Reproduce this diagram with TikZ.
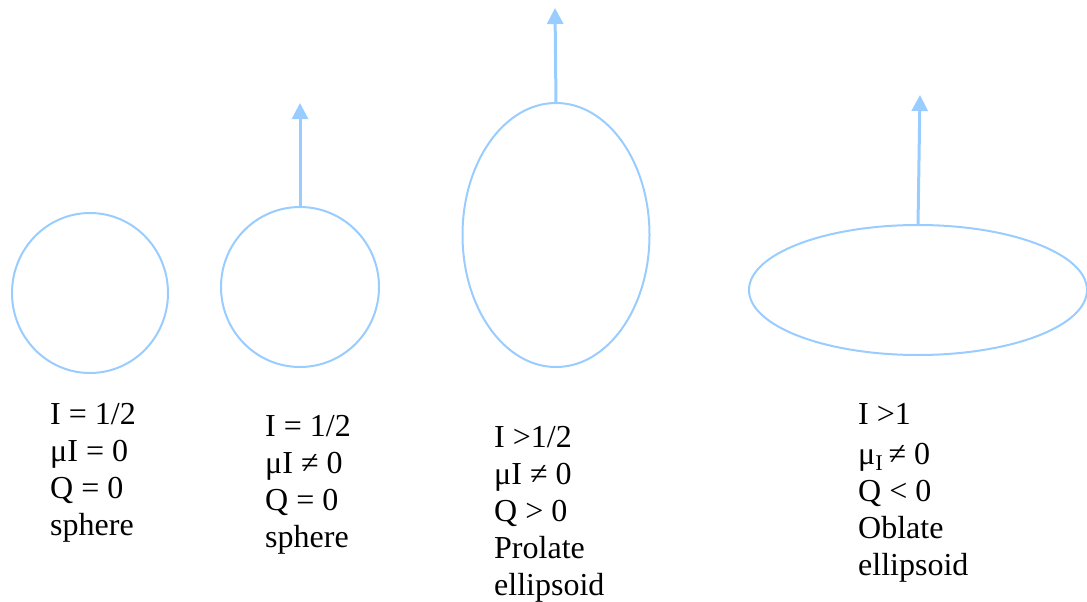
\documentclass[tikz,border=0pt]{standalone}
\usepackage{fontspec}
\newfontfamily\labelfont{Liberation Serif}
\usepackage{xcolor}
\usetikzlibrary{arrows.meta,shapes.geometric}
\definecolor{skyblue}{RGB}{153,204,255}

\begin{document}
\begin{tikzpicture}[x=1pt, y=-1pt, blob/.style={draw=skyblue, line width=2pt, ellipse, inner sep=0pt, outer sep=0pt}, spin/.style={-{Triangle[length=16pt,width=16pt]}, draw=skyblue, fill=skyblue, line width=3pt}, lbl/.style={align=left, anchor=north west, inner sep=0pt, font=\labelfont\fontsize{32}{37}\selectfont}]
\useasboundingbox (0,0) rectangle (1087,602);
% shapes
\node[blob, minimum width=156pt, minimum height=160pt] (s1) at (90,293) {};
\node[blob, minimum width=158pt, minimum height=160pt] (s2) at (300,287) {};
\node[blob, minimum width=187pt, minimum height=264pt] (s3) at (556,235) {};
\node[blob, minimum width=338pt, minimum height=130pt] (s4) at (918,290) {};
% spin axes
\coordinate (t2) at (300,103);
\coordinate (t3) at (555,8);
\coordinate (t4) at (920,95);
\draw[spin] (s2.north) -- (t2);
\draw[spin] (s3.north) -- (t3);
\draw[spin] (s4.north) -- (t4);
% labels
\node[lbl] (l1) at (50,403) {I = 1/2\\μI = 0\\Q = 0\\sphere};
\node[lbl] (l2) at (265,415) {I = 1/2\\μI ≠ 0\\Q = 0\\sphere};
\node[lbl] (l3) at (494,426) {I >1/2\\μI ≠ 0\\Q > 0\\Prolate\\ellipsoid};
\node[lbl] (l4) at (858,403) {I >1\\[3pt]μ\textsubscript{I}\,≠ 0\\Q < 0\\Oblate\\ellipsoid};
\end{tikzpicture}
\end{document}
